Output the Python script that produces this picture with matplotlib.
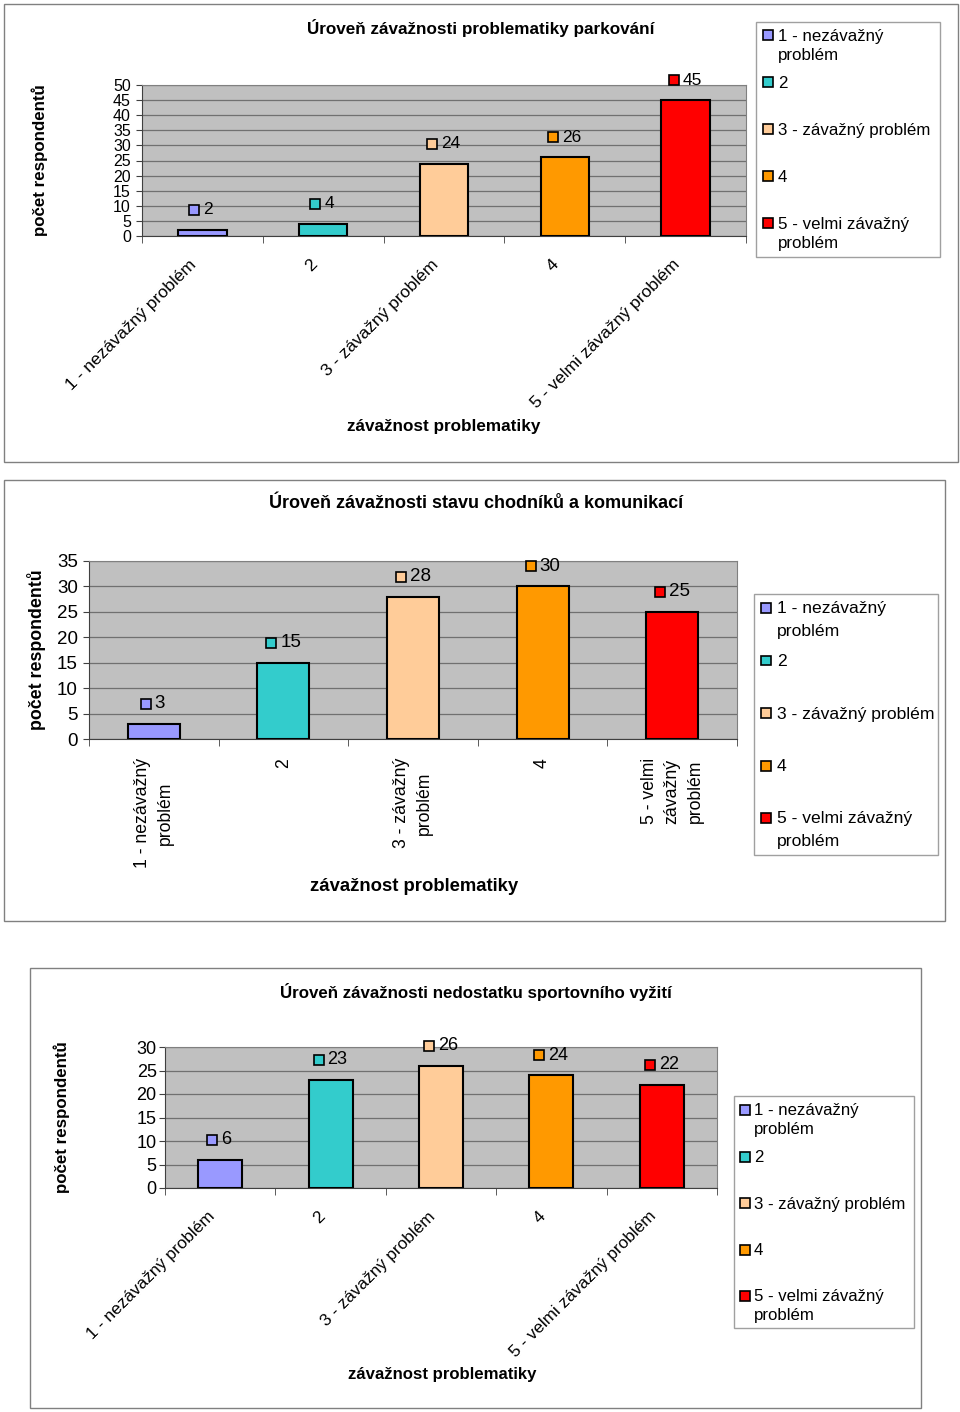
import matplotlib
matplotlib.use("Agg")
import numpy as np
import matplotlib.pyplot as plt
from matplotlib.patches import Rectangle
from matplotlib.transforms import offset_copy

plt.rcParams['font.family'] = ['Liberation Sans', 'DejaVu Sans']

# data
categories = ['1 - nezávažný problém', '2', '3 - závažný problém', '4', '5 - velmi závažný problém']
legend_labels = ['1 - nezávažný\nproblém', '2', '3 - závažný problém', '4', '5 - velmi závažný\nproblém']
labels_wrapped = ['1 - nezávažný\nproblém', '2', '3 - závažný\nproblém', '4', '5 - velmi\nzávažný\nproblém']
colors = ['#9999FF', '#33CCCC', '#FFCC99', '#FF9900', '#FF0000']

parkovani = [2, 4, 24, 26, 45]
chodniky = [3, 15, 28, 30, 25]
sport = [6, 23, 26, 24, 22]

titles = ['Úroveň závažnosti problematiky parkování',
          'Úroveň závažnosti stavu chodníků a komunikací',
          'Úroveň závažnosti nedostatku sportovního vyžití']
ylab = 'počet respondentů'
xlab = 'závažnost problematiky'

W, H = 960, 1412
fig = plt.figure(figsize=(W / 100, H / 100), dpi=100)


def fx(x):
    return x / W


def fy(y):
    return 1 - y / H


def frame(x0, y0, x1, y1, color='#808080'):
    fig.add_artist(Rectangle((fx(x0), fy(y1)), (x1 - x0) / W, (y1 - y0) / H,
                             transform=fig.transFigure, fill=False,
                             edgecolor=color, lw=1))


def panel(fr, box, values, ymax, title, title_xy, ylab_x, xlab_xy, leg,
          fs, ticklabels=None, ypad=4):
    frame(*fr)
    x0, y0, x1, y1 = box
    ax = fig.add_axes([fx(x0), fy(y1), (x1 - x0) / W, (y1 - y0) / H])
    ax.set_facecolor('#C0C0C0')
    x = np.arange(len(values))
    ax.bar(x, values, width=0.4, color=colors, edgecolor='black', lw=1.5, zorder=3)
    ax.set_xlim(-0.5, len(values) - 0.5)
    ax.set_ylim(0, ymax)
    ax.set_yticks(np.arange(0, ymax + 1, 5))
    ax.yaxis.grid(True, color='#707070', lw=0.9)
    ax.set_axisbelow(True)
    ax.tick_params(axis='y', length=4, pad=ypad, labelsize=fs['ytick'], color='#404040')
    ax.set_xticks([])
    ax.set_xticks(np.arange(-0.5, len(values), 1), minor=True)
    ax.tick_params(axis='x', which='minor', length=5, color='#404040')
    for s in ['left', 'bottom']:
        ax.spines[s].set_color('#404040')
    for s in ['top', 'right']:
        ax.spines[s].set_color('#808080')

    # data labels
    for i, v in enumerate(values):
        n = len(str(v))
        dx = -4 - 4 * n
        ax.plot(i, v, marker='s', ms=7.5, mfc=colors[i], mec='black', mew=1.2,
                transform=offset_copy(ax.transData, fig=fig, x=dx, y=20, units='dots'),
                clip_on=False, zorder=5)
        ax.text(i, v, str(v), fontsize=fs['data'], ha='left', va='center',
                transform=offset_copy(ax.transData, fig=fig, x=dx + 9, y=20, units='dots'))

    # category labels
    xt = ax.get_xaxis_transform()
    for i, lab in enumerate(categories):
        if ticklabels is None:
            ax.text(i, 0, lab, rotation=45, rotation_mode='anchor', ha='right',
                    va='center', fontsize=fs['xtick'],
                    transform=offset_copy(xt, fig=fig, x=-8, y=-26, units='dots'))
        else:
            ax.text(i, 0, ticklabels[i], rotation=90, ha='center', va='top',
                    multialignment='center', linespacing=1.46,
                    fontsize=fs['xtick'],
                    transform=offset_copy(xt, fig=fig, x=0, y=-19, units='dots'))

    fig.text(fx(title_xy[0]), fy(title_xy[1]), title, ha='center', va='center',
             fontsize=fs['title'], fontweight='bold')
    fig.text(fx(ylab_x), fy((y0 + y1) / 2), ylab, rotation=90, ha='center',
             va='center', fontsize=fs['ylab'], fontweight='bold')
    fig.text(fx(xlab_xy[0]), fy(xlab_xy[1]), xlab, ha='center', va='center',
             fontsize=fs['xlab'], fontweight='bold')

    # legend
    lx0, ly0, lx1, ly1, ystart, step, sqx, tx, ls = leg
    frame(lx0, ly0, lx1, ly1, color='#A0A0A0')
    for i, lab in enumerate(legend_labels):
        yc = ystart + i * step
        fig.add_artist(Rectangle((fx(sqx - 5), fy(yc + 5)), 10 / W, 10 / H,
                                 transform=fig.transFigure, facecolor=colors[i],
                                 edgecolor='black', lw=1.2))
        fig.text(fx(tx), fy(yc - 6.5), lab, ha='left', va='top',
                 fontsize=fs['leg'], linespacing=ls)
    return ax


fs1 = dict(title=12.3, ytick=11.5, xtick=12.6, ylab=12.2, xlab=12.3, leg=12.2, data=12.5)
fs2 = dict(title=13, ytick=13.5, xtick=12.7, ylab=12.8, xlab=13.3, leg=12.6, data=13.5)
fs3 = dict(title=12.2, ytick=13, xtick=12.3, ylab=12.2, xlab=12.1, leg=12.1, data=13)

panel((4, 4, 958, 462), (142, 85, 746, 236), parkovani, 50, titles[0], (481, 28),
      40, (444, 427), (756, 22, 940, 257, 35, 47, 768, 778, 1.38), fs1, ypad=4)
panel((4, 480, 945, 921), (89, 561, 737, 739), chodniky, 35, titles[1], (476, 504),
      37, (414, 887), (754, 594, 938, 855, 608, 52.5, 766, 777, 1.63), fs2,
      ticklabels=labels_wrapped, ypad=4)
panel((30, 968, 921, 1408), (165, 1047, 717, 1188), sport, 30, titles[2], (476, 992),
      62, (442, 1375), (734, 1096, 914, 1328, 1110, 46.5, 745, 754, 1.26), fs3, ypad=2)

fig.savefig('out.png', dpi=100)
